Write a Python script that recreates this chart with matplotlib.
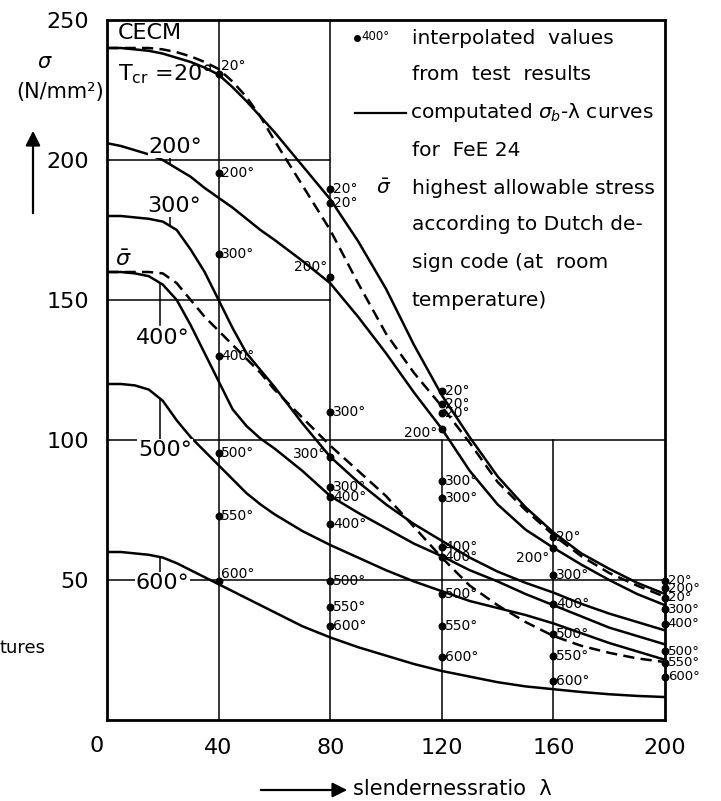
import matplotlib

matplotlib.use("Agg")
import matplotlib.pyplot as plt
import numpy as np
from matplotlib.lines import Line2D

W, H = 721, 801

# slenderness ratio lambda at which the curves were read
LAMBDA = [0, 5, 10, 15, 20, 25, 30, 35, 40, 45, 50, 55, 60, 70, 80, 90, 100,
          110, 120, 130, 140, 150, 160, 170, 180, 190, 200]

# computed sigma_b - lambda curves (solid), N/mm2
SIG_20 = [240, 240, 239.5, 239, 238, 236.5, 235, 233, 230.5, 226, 221, 215.5, 210, 198,
          186, 171, 154, 134, 116, 101, 87, 76, 67, 59.5, 54, 49, 45]
SIG_200 = [206, 205, 203.5, 202, 200, 197, 194, 190, 186.5, 183, 179, 175, 171.5, 164,
           156, 144, 131, 117, 104, 89, 77, 68, 61.5, 55.5, 50, 45, 41]
SIG_300 = [180, 180, 179.5, 179, 178, 175, 168, 160, 150, 140, 131, 125, 119, 106,
           94, 85, 77, 70, 64, 58, 53, 49, 45.5, 41.5, 38, 35, 32]
SIG_400 = [160, 160, 159.5, 158.5, 155.5, 150, 141, 131, 121, 111, 105, 100.5, 97, 89,
           80, 74, 68.5, 63, 58.5, 53.5, 49.5, 45, 41, 37, 33, 30, 27]
SIG_500 = [120, 120, 119.5, 118, 114, 107, 101, 96, 91, 86, 81, 77, 73.5, 67.5,
           62.5, 58, 53.5, 49.5, 46, 42.5, 40, 37.5, 34.5, 31, 27.5, 24.5, 21.5]
SIG_600 = [60, 60, 59.5, 59, 58, 56, 53.5, 51, 48.5, 46, 43.5, 41, 38.5, 33.5,
           29.5, 26, 23, 20, 17.5, 15.5, 13.5, 12, 11, 10, 9.2, 8.6, 8.2]

# dashed curves
SIG_20_DASH = [240, 240, 240, 240, 239.5, 238.5, 237, 235, 232.5, 228, 222.5, 215.5, 207, 191,
               175, 156, 138, 124, 112, 99, 85, 75, 66, 58.5, 52.5, 48, 44]
SIG_BAR = [160, 160, 160, 160, 159.5, 156, 150, 144, 139, 134, 129, 124, 118, 108,
           98, 89, 80, 69, 58, 48, 41, 35, 30, 26.5, 24, 22, 20.7]

# interpolated values from test results
PT_LAMBDA = [40, 40, 40, 40, 40, 40, 40,
             80, 80, 80, 80, 80, 80, 80, 80, 80, 80, 80,
             120, 120, 120, 120, 120, 120, 120, 120, 120, 120, 120,
             160, 160, 160, 160, 160, 160, 160,
             200, 200, 200, 200, 200, 200, 200, 200]
PT_SIGMA = [230.7, 195.4, 166.4, 130, 95.4, 72.9, 49.6,
            189.6, 184.6, 158.2, 110, 94, 83.2, 79.6, 70, 49.6, 40.4, 33.6,
            117.5, 112.9, 109.6, 104, 85.4, 79.3, 61.8, 58.2, 45, 33.6, 22.5,
            65.4, 61.4, 51.8, 41.4, 30.7, 22.9, 13.9,
            49.7, 47, 43.6, 39.6, 34.3, 24.5, 20.5, 15.5]
PT_TEMP = ["20°", "200°", "300°", "400°", "500°", "550°", "600°",
           "20°", "20°", "200°", "300°", "300°", "300°", "400°", "400°", "500°", "550°", "600°",
           "20°", "20°", "20°", "200°", "300°", "300°", "400°", "400°", "500°", "550°", "600°",
           "20°", "200°", "300°", "400°", "500°", "550°", "600°",
           "20°", "200°", "20°", "300°", "400°", "500°", "550°", "600°"]

X_TICKS = [40, 80, 120, 160, 200]
Y_TICKS = [50, 100, 150, 200, 250]


def fig_px(x, y):
    """pixel position (from top-left) -> figure fraction"""
    return x / W, 1 - y / H


plt.rcParams["font.family"] = ["DejaVu Sans"]
fig = plt.figure(figsize=(W / 100, H / 100), dpi=100)
ax = fig.add_axes([107 / W, 1 - 720 / H, (665 - 107) / W, (720 - 20) / H])
ax.set_xlim(0, 200)
ax.set_ylim(0, 250)
for sp in ax.spines.values():
    sp.set_linewidth(2.0)

# partial grid as in the original drawing
grid_kw = dict(color="black", lw=1.1, zorder=1)
for xv in (40, 80):
    ax.plot([xv, xv], [0, 250], **grid_kw)
for xv in (120, 160):
    ax.plot([xv, xv], [0, 100], **grid_kw)
for yv in (50, 100):
    ax.plot([0, 200], [yv, yv], **grid_kw)
for yv in (150, 200):
    ax.plot([0, 80], [yv, yv], **grid_kw)

curve_kw = dict(color="black", lw=1.8, zorder=3, solid_capstyle="butt")
for sig in (SIG_20, SIG_200, SIG_300, SIG_400, SIG_500, SIG_600):
    ax.plot(LAMBDA, sig, **curve_kw)
ax.plot(LAMBDA, SIG_20_DASH, dashes=(4.5, 2.5), **curve_kw)
ax.plot(LAMBDA, SIG_BAR, dashes=(4.5, 2.5), **curve_kw)

ax.scatter(PT_LAMBDA, PT_SIGMA, s=22, color="black", zorder=4, clip_on=False)

# labels next to the test points
left_labels = {9: (-2, 7), 11: (-3, 2), 21: (-3, -3), 30: (-3, -7)}
up_labels = {0: (2, 6), 6: (2, 5)}
for i, (lx, sy, txt) in enumerate(zip(PT_LAMBDA, PT_SIGMA, PT_TEMP)):
    if i in left_labels:
        off, ha = left_labels[i], "right"
    elif i in up_labels:
        off, ha = up_labels[i], "left"
    else:
        off, ha = (2, 0), "left"
    size = 9.5 if lx == 200 else 10
    ax.annotate(txt, (lx, sy), xytext=off, textcoords="offset points",
                ha=ha, va="center", fontsize=size, zorder=5)

# curve labels with their short leader lines
big = 16
ax.text(3.9, 245.5, "CECM", fontsize=big, va="center", ha="left")
ax.text(3.9, 230.5, r"$\mathrm{T_{cr}}$ =20°", fontsize=big, va="center", ha="left")
ax.text(6.0, 164.5, r"$\bar{\sigma}$", fontsize=big, va="center", ha="center")

curve_labels = [
    ("200°", 24.5, 204.5, SIG_200, 22.6, 201.0),
    ("300°", 24.0, 183.5, SIG_300, 22.6, 180.0),
    ("400°", 20.0, 136.5, SIG_400, 19.0, 141.0),
    ("500°", 20.8, 96.5, SIG_500, 19.0, 100.5),
    ("600°", 20.0, 49.0, SIG_600, 19.0, 53.0),
]
for txt, tx, ty, sig, lead_x, lead_y in curve_labels:
    ax.text(tx, ty, txt, fontsize=big, va="center", ha="center",
            bbox=dict(facecolor="white", edgecolor="none", pad=0.5), zorder=4)
    ax.plot([lead_x, lead_x], [lead_y, np.interp(lead_x, LAMBDA, sig)],
            color="black", lw=1.1, zorder=2)

# ticks
ax.tick_params(length=0, labelsize=16)
ax.set_xticks(X_TICKS)
ax.set_yticks(Y_TICKS)
ax.tick_params(axis="x", pad=13)
ax.tick_params(axis="y", pad=13)
fig.text(*fig_px(97, 746), "0", fontsize=16, ha="center", va="center")

# y axis caption with arrow
fig.text(*fig_px(45, 62), r"$\sigma$", fontsize=15, ha="center", va="center")
fig.text(*fig_px(60, 92), "(N/mm²)", fontsize=15, ha="center", va="center")
ax.annotate("", xy=(33, H - 128), xytext=(33, H - 216), xycoords="figure pixels",
            textcoords="figure pixels",
            arrowprops=dict(arrowstyle="-|>", color="black", lw=1.6, mutation_scale=22))

# x axis caption with arrow
ax.annotate("", xy=(350, H - 790), xytext=(258, H - 790), xycoords="figure pixels",
            textcoords="figure pixels",
            arrowprops=dict(arrowstyle="-|>", color="black", lw=1.6, mutation_scale=22))
fig.text(*fig_px(353, 789), "slendernessratio  λ", fontsize=15, ha="left", va="center")

fig.text(*fig_px(0, 648), "tures", fontsize=13, ha="left", va="center")

# legend block
leg = 14.5
fig.add_artist(Line2D([357 / W], [1 - 38 / H], marker="o", markersize=4, color="black",
                      transform=fig.transFigure))
fig.text(*fig_px(361, 37), "400°", fontsize=8.5, ha="left", va="center")
fig.text(*fig_px(412, 38), "interpolated  values", fontsize=leg, ha="left", va="center")
fig.text(*fig_px(412, 75), "from  test  results", fontsize=leg, ha="left", va="center")
fig.add_artist(Line2D([355 / W, 406 / W], [1 - 113 / H, 1 - 113 / H], color="black",
                      lw=1.6, transform=fig.transFigure))
fig.text(*fig_px(410, 113), r"computated $\sigma_{b}$-λ curves", fontsize=leg,
         ha="left", va="center")
fig.text(*fig_px(412, 150), "for  FeE 24", fontsize=leg, ha="left", va="center")
fig.text(*fig_px(384, 188), r"$\bar{\sigma}$", fontsize=leg, ha="center", va="center")
fig.text(*fig_px(412, 188), "highest allowable stress", fontsize=leg, ha="left", va="center")
fig.text(*fig_px(412, 225), "according to Dutch de-", fontsize=leg, ha="left", va="center")
fig.text(*fig_px(412, 262), "sign code (at  room", fontsize=leg, ha="left", va="center")
fig.text(*fig_px(412, 300), "temperature)", fontsize=leg, ha="left", va="center")

fig.savefig("out.png", dpi=100, facecolor="white")
